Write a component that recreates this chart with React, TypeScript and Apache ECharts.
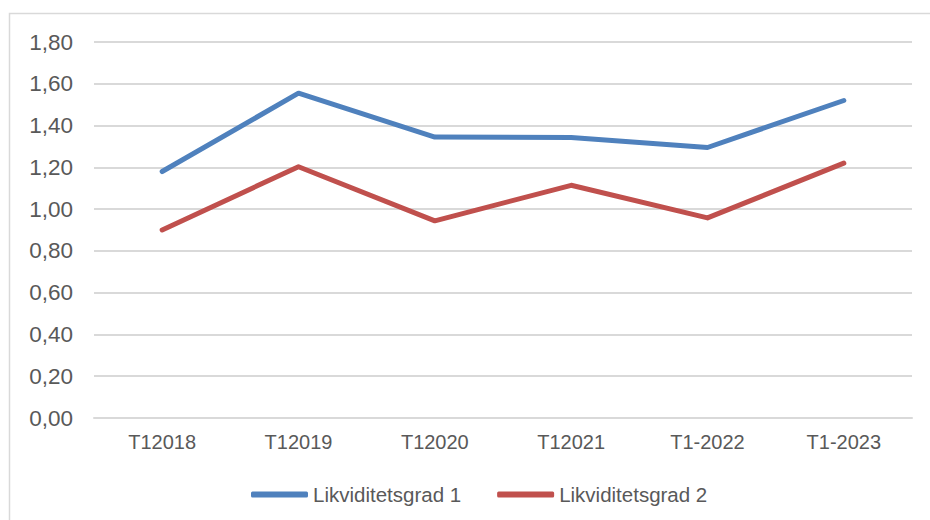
import React, { useEffect, useRef } from "react";
import * as echarts from "echarts";

const categories = ["T12018", "T12019", "T12020", "T12021", "T1-2022", "T1-2023"];
const likviditetsgrad1 = [1.18, 1.555, 1.345, 1.343, 1.295, 1.52];
const likviditetsgrad2 = [0.9, 1.203, 0.944, 1.114, 0.958, 1.22];
const seriesNames = ["Likviditetsgrad 1", "Likviditetsgrad 2"];

const FONT = "'Liberation Sans', Arial, sans-serif";
const TEXT = "#595959";
const GRID = "#d9d9d9";

export default function App() {
  const ref = useRef<HTMLDivElement>(null);
  useEffect(() => {
    if (!ref.current) return;
    const chart = echarts.init(ref.current, undefined, { renderer: "svg" });
    chart.setOption({
      animation: false,
      backgroundColor: "#ffffff",
      textStyle: { fontFamily: FONT },
      graphic: [
        {
          type: "rect",
          shape: { x: 9.5, y: 13.5, width: 940, height: 520 },
          style: { fill: "none", stroke: GRID, lineWidth: 1.5 },
          silent: true,
        },
      ],
      grid: { left: 94, right: 18, top: 42, bottom: 102 },
      legend: {
        data: seriesNames,
        top: 479,
        left: 246,
        itemWidth: 57,
        itemHeight: 6,
        itemGap: 36,
        icon: "roundRect",
        textStyle: { color: TEXT, fontSize: 20.5, fontFamily: FONT },
      },
      xAxis: {
        type: "category",
        data: categories,
        boundaryGap: true,
        axisLine: { show: true, lineStyle: { color: GRID, width: 2 } },
        axisTick: { show: false },
        axisLabel: { color: TEXT, fontSize: 20, fontFamily: FONT, margin: 14 },
      },
      yAxis: {
        type: "value",
        min: 0,
        max: 1.8,
        interval: 0.2,
        axisLine: { show: false },
        axisTick: { show: false },
        splitLine: { lineStyle: { color: GRID, width: 2 } },
        axisLabel: {
          color: TEXT,
          fontSize: 22.5,
          fontFamily: FONT,
          margin: 21,
          formatter: (v: number) => v.toFixed(2).replace(".", ","),
        },
      },
      series: [
        {
          name: seriesNames[0],
          type: "line",
          data: likviditetsgrad1,
          symbol: "none",
          color: "#4F81BD",
          lineStyle: { width: 5, cap: "round", join: "round", color: "#4F81BD" },
        },
        {
          name: seriesNames[1],
          type: "line",
          data: likviditetsgrad2,
          symbol: "none",
          color: "#C0504D",
          lineStyle: { width: 5, cap: "round", join: "round", color: "#C0504D" },
        },
      ],
    });
    return () => chart.dispose();
  }, []);
  return (
    <div
      ref={ref}
      style={{ position: "fixed", left: 0, top: 0, width: 930, height: 520 }}
    />
  );
}
